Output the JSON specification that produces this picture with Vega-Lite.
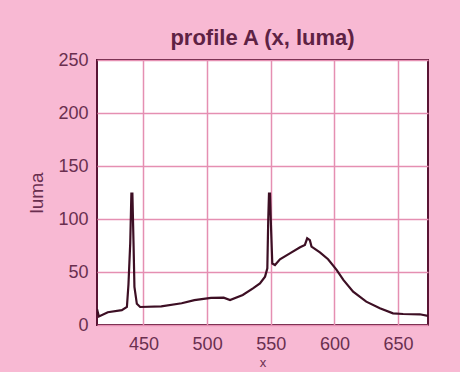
{
  "$schema": "https://vega.github.io/schema/vega-lite/v6.json",
  "autosize": "none",
  "width": 331,
  "height": 265,
  "padding": {"left": 97, "top": 60, "right": 32, "bottom": 47},
  "background": "#f8b9d3",
  "title": {"text": "profile A (x, luma)", "font": "Liberation Sans", "fontSize": 22, "fontWeight": "bold", "color": "#5e2244", "offset": 1, "anchor": "middle"},
  "config": {
    "view": {"fill": "#ffffff", "stroke": "#5a1535", "strokeWidth": 2},
    "axis": {"labelFont": "Liberation Sans", "labelFontSize": 18, "labelColor": "#6a2f4f", "titleFont": "Liberation Sans", "titleFontSize": 19, "titleFontWeight": "normal", "titleColor": "#6a2f4f", "gridColor": "#e58fb2", "gridWidth": 1.5, "gridOpacity": 1, "domain": false, "ticks": false}
  },
  "data": {"values": [
    {"x": 413.5, "luma": 15}, {"x": 415, "luma": 8}, {"x": 422, "luma": 12}, {"x": 433, "luma": 14},
    {"x": 437, "luma": 17}, {"x": 438.2, "luma": 38}, {"x": 439.6, "luma": 77}, {"x": 440.5, "luma": 124},
    {"x": 441.3, "luma": 124}, {"x": 442.2, "luma": 77}, {"x": 442.9, "luma": 36}, {"x": 444.8, "luma": 20},
    {"x": 447.4, "luma": 17}, {"x": 464, "luma": 17.5}, {"x": 480, "luma": 20.5}, {"x": 490, "luma": 23.5},
    {"x": 503, "luma": 25.5}, {"x": 513, "luma": 25.8}, {"x": 518, "luma": 23.6}, {"x": 528, "luma": 28.3},
    {"x": 536, "luma": 34.6}, {"x": 541.5, "luma": 39.3}, {"x": 545.5, "luma": 45.6}, {"x": 547.3, "luma": 53.5},
    {"x": 548, "luma": 99}, {"x": 548.6, "luma": 124}, {"x": 549.4, "luma": 124}, {"x": 550, "luma": 99},
    {"x": 551.2, "luma": 58}, {"x": 553.3, "luma": 56.6}, {"x": 557.2, "luma": 62}, {"x": 565, "luma": 67.6},
    {"x": 573, "luma": 73.3}, {"x": 576.8, "luma": 75.5}, {"x": 578.6, "luma": 81.8}, {"x": 580.7, "luma": 80},
    {"x": 582, "luma": 74}, {"x": 588.6, "luma": 68.5}, {"x": 595, "luma": 62}, {"x": 601.7, "luma": 52},
    {"x": 607, "luma": 42.5}, {"x": 614.7, "luma": 31.4}, {"x": 625, "luma": 22}, {"x": 635.7, "luma": 15.7},
    {"x": 646, "luma": 11}, {"x": 654, "luma": 10.4}, {"x": 667, "luma": 10.1}, {"x": 673.5, "luma": 8.5}
  ]},
  "mark": {"type": "line", "color": "#3d0f24", "strokeWidth": 2.2, "clip": true},
  "encoding": {
    "x": {"field": "x", "type": "quantitative", "scale": {"domain": [413.5, 673.5], "nice": false, "zero": false},
      "axis": {"values": [450, 500, 550, 600, 650], "labelPadding": 10, "title": "x", "titleFontSize": 13, "titlePadding": 3}},
    "y": {"field": "luma", "type": "quantitative", "scale": {"domain": [0, 250], "nice": false},
      "axis": {"values": [0, 50, 100, 150, 200, 250], "labelPadding": 9, "title": "luma", "titlePadding": 11}}
  }
}
